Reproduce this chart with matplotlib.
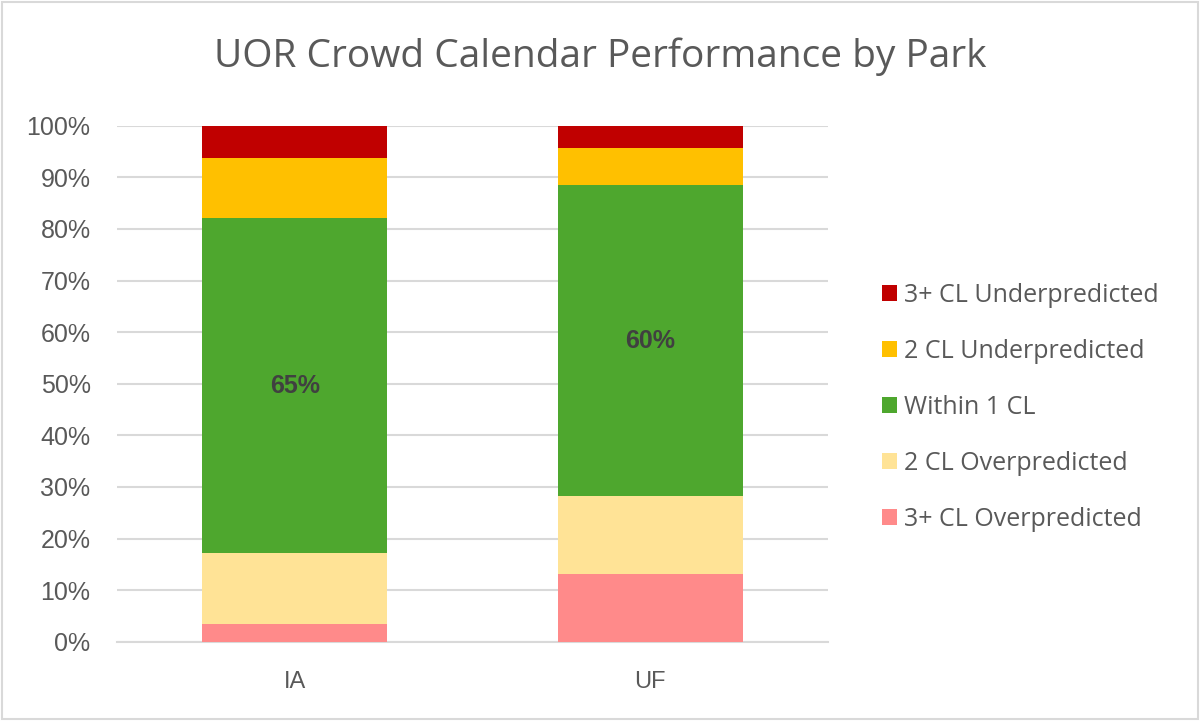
import matplotlib
matplotlib.use("Agg")
import matplotlib.pyplot as plt
from matplotlib.patches import Rectangle
import numpy as np

parks = ["IA", "UF"]
series_names = ["3+ CL Overpredicted", "2 CL Overpredicted", "Within 1 CL",
                "2 CL Underpredicted", "3+ CL Underpredicted"]
over3 = [3.5, 13.1]
over2 = [13.6, 15.1]
within1 = [65.0, 60.3]
under2 = [11.7, 7.1]
under3 = [6.2, 4.4]
within_labels = ["65%", "60%"]
yticks = [0, 10, 20, 30, 40, 50, 60, 70, 80, 90, 100]
ytick_labels = [f"{v}%" for v in yticks]

colors = ["#FF8A8A", "#FFE396", "#4EA72E", "#FFC000", "#C00000"]
plt.rcParams['font.family'] = ['Open Sans', 'DejaVu Sans']

fig = plt.figure(figsize=(12, 7.21), dpi=100)
ax = fig.add_axes([117/1200, 1-641.7/721, (828-117)/1200, (641.7-125.7)/721])

x = np.arange(len(parks))
series = [over3, over2, within1, under2, under3]
bottom = np.zeros(len(parks))
handles = []
for name, vals, c in zip(series_names, series, colors):
    b = ax.bar(x, vals, 0.52, bottom=bottom, color=c, label=name, zorder=3)
    handles.append(b)
    bottom += np.array(vals)

w_bottom = np.array(over3) + np.array(over2)
for i in range(len(parks)):
    ax.text(x[i], w_bottom[i] + within1[i] / 2, within_labels[i], ha="center", va="center",
            fontsize=18, fontweight="bold", color="#404040", zorder=4,
            family=["Liberation Sans", "DejaVu Sans"])

ax.set_xlim(-0.5, 1.5)
ax.set_ylim(0, 100)
ax.set_yticks(yticks)
ax.set_yticklabels(ytick_labels, family=["Liberation Sans", "DejaVu Sans"])
ax.set_xticks(x)
ax.set_xticklabels(parks, family=["Liberation Sans", "DejaVu Sans"])
ax.tick_params(axis="both", length=0, labelcolor="#595959")
ax.tick_params(axis="y", pad=19, labelsize=18)
ax.tick_params(axis="x", pad=21, labelsize=17)
ax.grid(axis="y", color="#D9D9D9", linewidth=1.5, zorder=0)
for s in ["top", "right", "left"]:
    ax.spines[s].set_visible(False)
ax.spines["bottom"].set_color("#D9D9D9")
ax.spines["bottom"].set_linewidth(1.5)

fig.text(0.5, 1-57/721, "UOR Crowd Calendar Performance by Park", ha="center", va="center",
         fontsize=28, color="#595959")

leg = fig.legend(handles[::-1], series_names[::-1], loc="center left",
                 bbox_to_anchor=(859/1200, 1-407/721), frameon=False,
                 fontsize=18, labelcolor="#595959", handlelength=0.6, handleheight=0.6,
                 handletextpad=0.3, labelspacing=1.24)

fig.add_artist(Rectangle((0.002, 0.003), 0.996, 0.994, transform=fig.transFigure,
                         fill=False, edgecolor="#D9D9D9", linewidth=1.5))

fig.savefig("out.png", dpi=100, facecolor="white")
